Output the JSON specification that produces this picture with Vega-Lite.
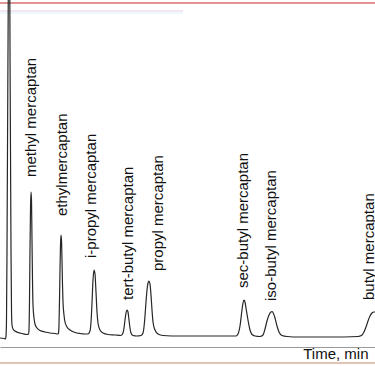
{
  "$schema": "https://vega.github.io/schema/vega-lite/v6.json",
  "width": 375,
  "height": 347,
  "autosize": "none",
  "padding": {"left": 0, "top": 0, "right": 0, "bottom": 19},
  "background": "white",
  "config": {"view": {"stroke": null}},
  "datasets": {
    "trace": [
      {"time": 0, "signal": -2}, {"time": 0.4, "signal": -2.5}, {"time": 0.55, "signal": -3}, {"time": 0.6, "signal": 0},
      {"time": 0.65, "signal": 16}, {"time": 0.7, "signal": 86}, {"time": 0.75, "signal": 186}, {"time": 0.8, "signal": 286},
      {"time": 0.85, "signal": 386}, {"time": 0.9, "signal": 486}, {"time": 0.95, "signal": 436}, {"time": 1.0, "signal": 286},
      {"time": 1.05, "signal": 186}, {"time": 1.1, "signal": 86}, {"time": 1.15, "signal": 26}, {"time": 1.2, "signal": 11},
      {"time": 1.3, "signal": 7}, {"time": 1.5, "signal": 5}, {"time": 1.8, "signal": 3.5}, {"time": 2.2, "signal": 2.5},
      {"time": 2.7, "signal": 1.5},
      {"time": 2.85, "signal": 2}, {"time": 2.9, "signal": 6}, {"time": 2.95, "signal": 36}, {"time": 3.0, "signal": 86},
      {"time": 3.05, "signal": 126}, {"time": 3.1, "signal": 144}, {"time": 3.15, "signal": 136}, {"time": 3.2, "signal": 96},
      {"time": 3.25, "signal": 56}, {"time": 3.3, "signal": 31}, {"time": 3.4, "signal": 18}, {"time": 3.5, "signal": 12},
      {"time": 3.7, "signal": 8}, {"time": 4.0, "signal": 5.5}, {"time": 4.5, "signal": 4}, {"time": 5.0, "signal": 3},
      {"time": 5.5, "signal": 2.5}, {"time": 5.8, "signal": 2},
      {"time": 5.85, "signal": 3}, {"time": 5.9, "signal": 11}, {"time": 5.95, "signal": 36}, {"time": 6.0, "signal": 66},
      {"time": 6.05, "signal": 91}, {"time": 6.1, "signal": 101}, {"time": 6.15, "signal": 96}, {"time": 6.2, "signal": 76},
      {"time": 6.25, "signal": 51}, {"time": 6.3, "signal": 34}, {"time": 6.4, "signal": 21}, {"time": 6.5, "signal": 14},
      {"time": 6.7, "signal": 9}, {"time": 7.0, "signal": 6}, {"time": 7.5, "signal": 3.5}, {"time": 8.0, "signal": 2.5},
      {"time": 8.5, "signal": 2}, {"time": 8.8, "signal": 2},
      {"time": 9.0, "signal": 5}, {"time": 9.1, "signal": 14}, {"time": 9.2, "signal": 33}, {"time": 9.3, "signal": 56},
      {"time": 9.4, "signal": 66}, {"time": 9.5, "signal": 62}, {"time": 9.6, "signal": 44}, {"time": 9.7, "signal": 24},
      {"time": 9.8, "signal": 13}, {"time": 10.0, "signal": 6}, {"time": 10.3, "signal": 3}, {"time": 10.8, "signal": 1.5},
      {"time": 11.5, "signal": 1}, {"time": 12.1, "signal": 0.5},
      {"time": 12.3, "signal": 3}, {"time": 12.4, "signal": 8}, {"time": 12.5, "signal": 16}, {"time": 12.6, "signal": 23},
      {"time": 12.7, "signal": 26}, {"time": 12.8, "signal": 24}, {"time": 12.9, "signal": 16}, {"time": 13.0, "signal": 8},
      {"time": 13.1, "signal": 3}, {"time": 13.3, "signal": 0.5}, {"time": 13.7, "signal": 0}, {"time": 14.1, "signal": 0.5},
      {"time": 14.3, "signal": 3}, {"time": 14.4, "signal": 9}, {"time": 14.5, "signal": 20}, {"time": 14.6, "signal": 34},
      {"time": 14.7, "signal": 46}, {"time": 14.8, "signal": 53}, {"time": 14.9, "signal": 55}, {"time": 15.0, "signal": 52},
      {"time": 15.1, "signal": 41}, {"time": 15.2, "signal": 26}, {"time": 15.3, "signal": 14}, {"time": 15.5, "signal": 6},
      {"time": 15.8, "signal": 2}, {"time": 16.3, "signal": 0.5}, {"time": 18.0, "signal": 0}, {"time": 21.0, "signal": 0},
      {"time": 23.6, "signal": 0},
      {"time": 23.8, "signal": 2}, {"time": 24.0, "signal": 10}, {"time": 24.2, "signal": 26}, {"time": 24.3, "signal": 33},
      {"time": 24.4, "signal": 36}, {"time": 24.5, "signal": 34}, {"time": 24.6, "signal": 28}, {"time": 24.8, "signal": 16},
      {"time": 25.0, "signal": 6}, {"time": 25.2, "signal": 1.5}, {"time": 25.5, "signal": 0}, {"time": 26.0, "signal": -0.5},
      {"time": 26.3, "signal": 1}, {"time": 26.5, "signal": 7}, {"time": 26.7, "signal": 15}, {"time": 26.9, "signal": 21},
      {"time": 27.1, "signal": 24}, {"time": 27.2, "signal": 24.5}, {"time": 27.3, "signal": 23.5}, {"time": 27.5, "signal": 18},
      {"time": 27.7, "signal": 10}, {"time": 27.9, "signal": 4}, {"time": 28.2, "signal": 0.5}, {"time": 28.7, "signal": -0.5},
      {"time": 30.0, "signal": -1}, {"time": 33.0, "signal": -1}, {"time": 35.8, "signal": -0.5},
      {"time": 36.0, "signal": 0}, {"time": 36.2, "signal": 1}, {"time": 36.4, "signal": 4}, {"time": 36.6, "signal": 9},
      {"time": 36.8, "signal": 15}, {"time": 37.0, "signal": 20}, {"time": 37.2, "signal": 23}, {"time": 37.4, "signal": 24},
      {"time": 37.5, "signal": 24}
    ],
    "labels": [
      {"time": 3.1, "signal": 159, "name": "methyl mercaptan"},
      {"time": 6.2, "signal": 120, "name": "ethylmercaptan"},
      {"time": 9.1, "signal": 78, "name": "i-propyl mercaptan"},
      {"time": 12.75, "signal": 36, "name": "tert-butyl mercaptan"},
      {"time": 15.8, "signal": 65, "name": "propyl mercaptan"},
      {"time": 24.3, "signal": 48, "name": "sec-butyl mercaptan"},
      {"time": 27.1, "signal": 35, "name": "iso-butyl mercaptan"},
      {"time": 36.9, "signal": 36, "name": "butyl mercaptan"}
    ],
    "frame": [
      {"kind": "top", "signal": 333, "x0": 0, "x1": 37.5},
      {"kind": "pink", "signal": 325, "x0": 0, "x1": 18.3},
      {"kind": "cyan", "signal": 323, "x0": 0, "x1": 18.3},
      {"kind": "bottom", "signal": -27, "x0": 0, "x1": 37.5}
    ]
  },
  "layer": [
    {
      "data": {"name": "frame"},
      "mark": {"type": "rule", "clip": false},
      "encoding": {
        "x": {"field": "x0", "type": "quantitative", "scale": {"domain": [0, 37.5], "nice": false, "zero": false}, "axis": {"title": "Time, min", "domainColor": "#9a9a9a", "domainWidth": 1, "ticks": false, "labels": false, "grid": false, "titleFont": "Liberation Sans", "titleFontSize": 15, "titleFontWeight": "normal", "titleColor": "#111111", "titleAlign": "right", "titleAnchor": null, "titleBaseline": "alphabetic", "titleX": 368, "titleY": 11}},
        "x2": {"field": "x1"},
        "y": {"field": "signal", "type": "quantitative", "scale": {"domain": [-11, 336], "nice": false, "zero": false}, "axis": null},
        "color": {"field": "kind", "type": "nominal", "scale": {"domain": ["top", "pink", "cyan", "bottom"], "range": ["#c62828", "#f3c8ee", "#dcf6f6", "#c48a62"]}, "legend": null},
        "strokeWidth": {"field": "kind", "type": "nominal", "scale": {"domain": ["top", "pink", "cyan", "bottom"], "range": [1.2, 1, 2.5, 1.2]}, "legend": null}
      }
    },
    {
      "data": {"name": "trace"},
      "mark": {"type": "line", "clip": true, "color": "#262626", "strokeWidth": 1.2, "interpolate": "monotone"},
      "encoding": {
        "x": {"field": "time", "type": "quantitative"},
        "y": {"field": "signal", "type": "quantitative"}
      }
    },
    {
      "data": {"name": "labels"},
      "mark": {"type": "text", "angle": 270, "align": "left", "baseline": "middle", "font": "Liberation Sans", "fontSize": 15, "color": "#111111"},
      "encoding": {
        "x": {"field": "time", "type": "quantitative"},
        "y": {"field": "signal", "type": "quantitative"},
        "text": {"field": "name"}
      }
    }
  ]
}
